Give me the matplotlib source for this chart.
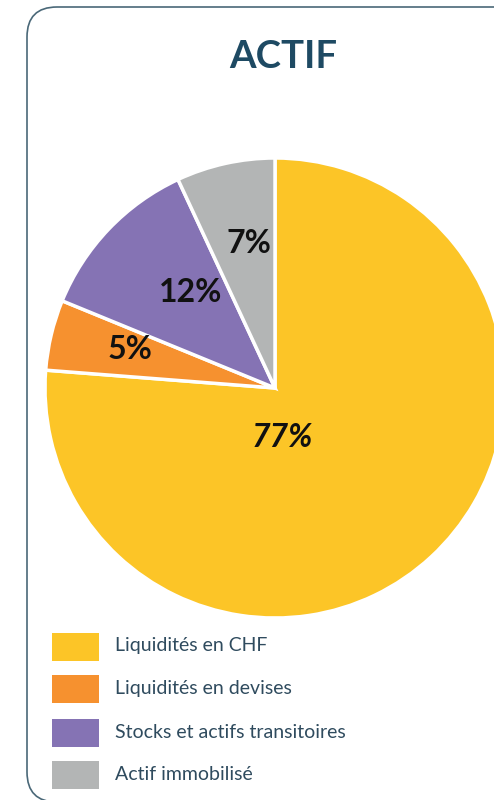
import matplotlib
matplotlib.use("Agg")
import matplotlib.pyplot as plt
from matplotlib.patches import FancyBboxPatch, Rectangle

plt.rcParams['font.family'] = ['Lato', 'DejaVu Sans']

title = "ACTIF"
categories = ["Liquidités en CHF", "Liquidités en devises",
              "Stocks et actifs transitoires", "Actif immobilisé"]
values = [77, 5, 12, 7]
labels = ["77%", "5%", "12%", "7%"]
colors = ["#FCC527", "#F6912F", "#8573B4", "#B3B5B5"]

W, H = 494, 800
fig = plt.figure(figsize=(W / 100, H / 100), dpi=100)
ax = fig.add_axes([0, 0, 1, 1])

def Y(py):
    return H - py

# border
border = FancyBboxPatch((27, Y(802)), 600, 795,
                        boxstyle="round,pad=0,rounding_size=30",
                        fill=False, edgecolor="#4A6878", linewidth=1.2, zorder=1)
ax.add_patch(border)

# pie
cx, cy, r = 275, Y(388), 230
ax.pie(values, colors=colors, startangle=90, counterclock=False,
       center=(cx, cy), radius=r, frame=True,
       wedgeprops=dict(edgecolor="white", linewidth=2.5))

# percentage labels (layout positions)
label_pos = [(282, 447), (130, 359), (191, 302), (249, 253)]
label_style = ["italic", "normal", "normal", "normal"]
for lab, (px, py), st in zip(labels, label_pos, label_style):
    ax.text(px, Y(py), lab, ha="center", va="baseline", fontsize=23,
            fontweight="bold", fontstyle=st, color="#111111", zorder=5)

# title
ax.text(283, Y(68), title, ha="center", va="baseline", fontsize=27.5,
        fontweight="bold", color="#1E4A63")

# legend
box_tops = [633, 675, 719, 761]
text_base = [651, 694, 738, 780]
for cat, col, bt, tb in zip(categories, colors, box_tops, text_base):
    ax.add_patch(Rectangle((52, Y(bt + 28)), 47, 28, facecolor=col,
                           edgecolor="none", zorder=3))
    ax.text(115, Y(tb), cat, ha="left", va="baseline", fontsize=14,
            color="#2F4B5E")

ax.set_xlim(0, W)
ax.set_ylim(0, H)
ax.set_aspect("equal")
ax.axis("off")
fig.savefig("out.png", dpi=100)
